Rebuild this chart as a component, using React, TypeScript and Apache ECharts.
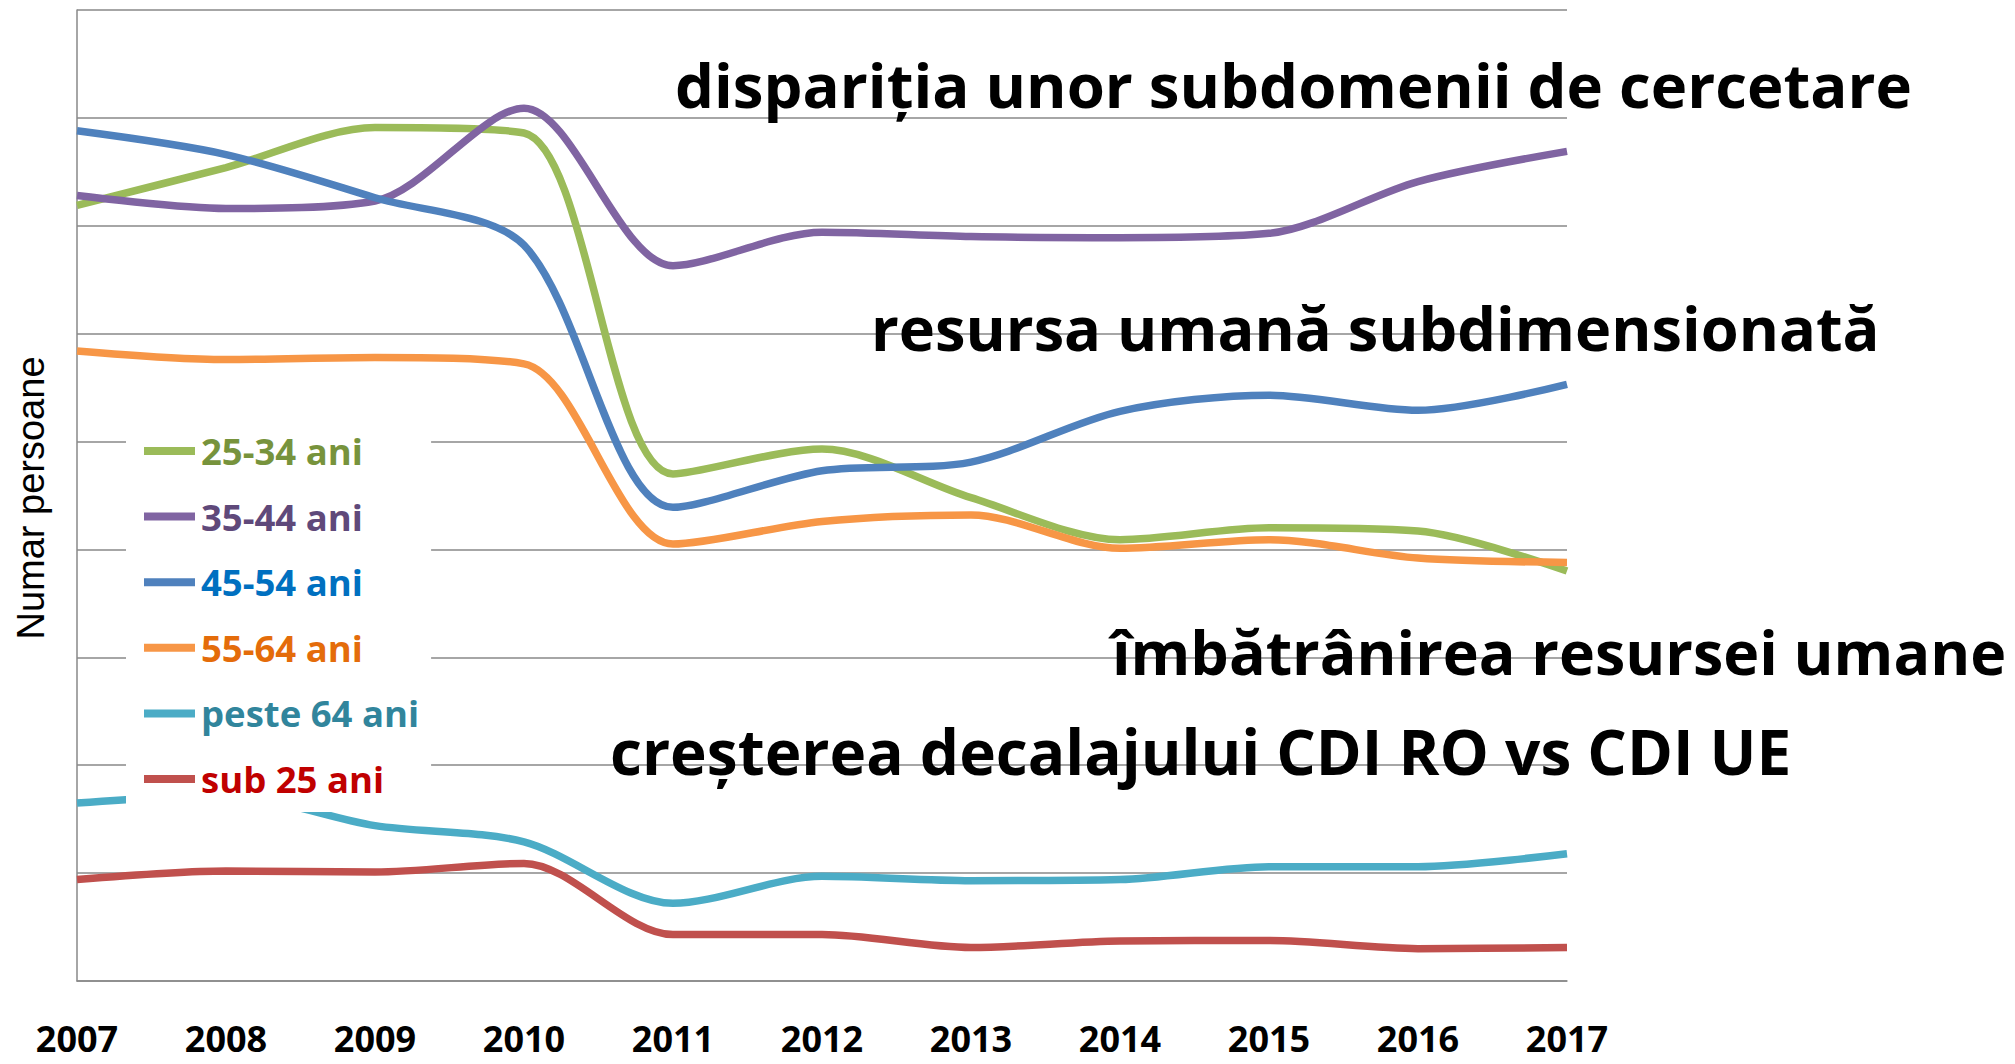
import React, { useEffect, useRef } from "react";
import * as echarts from "echarts";

const years = ["2007", "2008", "2009", "2010", "2011", "2012", "2013", "2014", "2015", "2016", "2017"];

const ani25_34 = [7190, 7540, 7910, 7860, 4700, 4930, 4480, 4090, 4200, 4170, 3800];
const ani35_44 = [7280, 7160, 7230, 8090, 6630, 6940, 6900, 6890, 6930, 7410, 7690];
const ani45_54 = [7880, 7660, 7260, 6820, 4390, 4730, 4810, 5280, 5430, 5290, 5530];
const ani55_64 = [5840, 5760, 5780, 5720, 4050, 4260, 4320, 4010, 4090, 3920, 3880];
const peste64 = [1650, 1720, 1440, 1290, 720, 970, 930, 940, 1060, 1060, 1180];
const sub25 = [940, 1020, 1010, 1090, 430, 430, 310, 370, 375, 300, 310];

const seriesNames = ["25-34 ani", "35-44 ani", "45-54 ani", "55-64 ani", "peste 64 ani", "sub 25 ani"];
const seriesValues = [ani25_34, ani35_44, ani45_54, ani55_64, peste64, sub25];
const lineColors = ["#9BBB59", "#8064A2", "#4F81BD", "#F79646", "#4BACC6", "#C0504D"];
const legendTextColors = ["#77933C", "#5F497A", "#0070C0", "#E46C0A", "#31859C", "#C00000"];

const annotations = [
  { text: "dispariția unor subdomenii de cercetare", x: 675, y: 84, size: 61.7 },
  { text: "resursa umană subdimensionată", x: 871, y: 327, size: 61.3 },
  { text: "îmbătrânirea resursei umane", x: 1112, y: 651, size: 60.9 },
  { text: "creșterea decalajului CDI RO vs CDI UE", x: 610, y: 751, size: 62.1 },
];

const yAxisTitle = "Numar persoane";

export default function App() {
  const ref = useRef<HTMLDivElement>(null);

  useEffect(() => {
    document.body.style.margin = "0";
    const chart = echarts.init(ref.current!, null, { renderer: "svg" });
    const grid = "#898989";
    chart.setOption({
      animation: false,
      backgroundColor: "#ffffff",
      grid: { left: 77, right: 448, top: 10, bottom: 83 },
      xAxis: {
        type: "category",
        data: years,
        boundaryGap: false,
        axisTick: { show: false },
        axisLine: { lineStyle: { color: grid, width: 1.5 } },
        axisLabel: {
          margin: 43,
          color: "#000",
          fontFamily: "Open Sans",
          fontWeight: "bold",
          fontSize: 36,
          lineHeight: 28,
        },
      },
      yAxis: {
        type: "value",
        min: 0,
        max: 9000,
        interval: 1000,
        axisLabel: { show: false },
        axisTick: { show: false },
        axisLine: { show: true, lineStyle: { color: grid, width: 1.5 } },
        splitLine: { lineStyle: { color: grid, width: 1.5 } },
      },
      legend: {
        orient: "vertical",
        left: 126,
        top: 418,
        backgroundColor: "#ffffff",
        padding: [11, 12, 11, 18],
        itemWidth: 51,
        itemHeight: 8,
        itemGap: 21.6,
        icon: "rect",
        textStyle: {
          fontFamily: "Open Sans",
          fontWeight: "bold",
          fontSize: 36.5,
          lineHeight: 44,
          padding: [0, 0, 0, 1],
        },
        data: seriesNames.map((n, i) => ({ name: n, textStyle: { color: legendTextColors[i] } })),
      },
      series: seriesNames.map((n, i) => ({
        name: n,
        type: "line",
        data: seriesValues[i],
        smooth: 0.3,
        symbol: "none",
        showSymbol: false,
        color: lineColors[i],
        lineStyle: { width: 7.5, color: lineColors[i] },
      })),
      graphic: [
        ...annotations.map((a) => ({
          type: "text",
          x: a.x,
          y: a.y,
          z: 10,
          style: {
            text: a.text,
            fill: "#000",
            font: `bold ${a.size}px 'Open Sans'`,
            textAlign: "left",
            textVerticalAlign: "middle",
          },
        })),
        {
          type: "text",
          x: 31,
          y: 498,
          rotation: Math.PI / 2,
          style: {
            text: yAxisTitle,
            fill: "#000",
            font: "38px 'Liberation Sans'",
            textAlign: "center",
            textVerticalAlign: "middle",
          },
        },
      ],
    });
    return () => chart.dispose();
  }, []);

  return <div ref={ref} style={{ width: 2015, height: 1064 }} />;
}
